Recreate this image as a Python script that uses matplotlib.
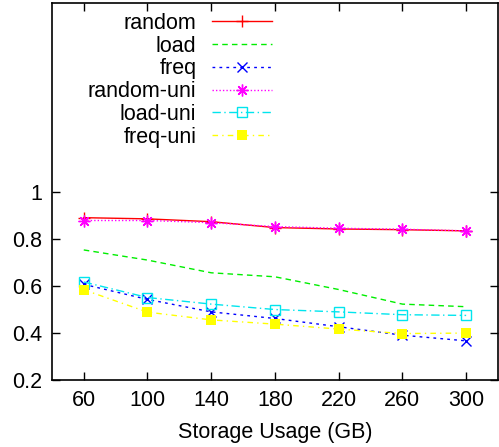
import matplotlib
matplotlib.use("Agg")
import matplotlib.pyplot as plt

x = [60, 100, 140, 180, 220, 260, 300]
random_ = [0.889, 0.884, 0.872, 0.847, 0.841, 0.838, 0.833]
load = [0.752, 0.709, 0.655, 0.638, 0.584, 0.522, 0.511]
freq = [0.606, 0.542, 0.489, 0.461, 0.426, 0.390, 0.366]
random_uni = [0.877, 0.877, 0.868, 0.851, 0.844, 0.840, 0.833]
load_uni = [0.616, 0.550, 0.522, 0.499, 0.489, 0.477, 0.474]
freq_uni = [0.583, 0.488, 0.455, 0.437, 0.416, 0.397, 0.399]
labels = ["random", "load", "freq", "random-uni", "load-uni", "freq-uni"]
yticks = [0.2, 0.4, 0.6, 0.8, 1.0]
ytick_labels = ["0.2", "0.4", "0.6", "0.8", "1"]

FS = 15.5
plt.rcParams['font.family'] = ['Liberation Sans', 'DejaVu Sans']
fig = plt.figure(figsize=(4.99, 4.47), dpi=100)
ax = fig.add_axes([0.104, 0.150, 0.894, 0.843])

ax.plot(x, random_, color='#ff0000', lw=1, ls='-', marker='+', ms=9, mew=1, label=labels[0])
ax.plot(x, load, color='#00ee00', lw=1, ls=(0, (4, 3)), label=labels[1])
ax.plot(x, freq, color='#0000ff', lw=1, ls=(0, (2, 3)), marker='x', ms=6.5, mew=1, label=labels[2])
ax.plot(x, random_uni, color='#ff00ff', lw=1, ls=(0, (1, 1.5)), marker=(8, 2, 0), ms=8.5, mew=1, label=labels[3])
ax.plot(x, load_uni, color='#00e5ee', lw=1, ls=(0, (6, 2.5, 1, 2.5)), marker='s', ms=6.5, mfc='none', mew=1, label=labels[4])
ax.plot(x, freq_uni, color='#ffff00', lw=1, ls=(0, (4, 3, 1, 3)), marker='s', ms=6.5, mfc='#ffff00', mew=0, label=labels[5])

ax.set_xlim(40, 320)
ax.set_ylim(0.2, 1.8)
ax.set_xticks(x)
ax.set_xticklabels([str(v) for v in x], fontsize=FS)
ax.set_yticks(yticks)
ax.set_yticklabels(ytick_labels, fontsize=FS)
ax.tick_params(direction='in', length=6, width=1, top=True, right=True, pad=7)
for s in ax.spines.values():
    s.set_linewidth(1.2)
ax.set_xlabel("Storage Usage (GB)", fontsize=FS, labelpad=8)

ax.legend(loc='upper right', bbox_to_anchor=(0.493, 0.974), frameon=False, markerfirst=False,
          fontsize=FS, handlelength=2.8, labelspacing=0.08, borderaxespad=0.0, borderpad=0.0,
          handletextpad=0.7)

fig.savefig("out.png", dpi=100)
